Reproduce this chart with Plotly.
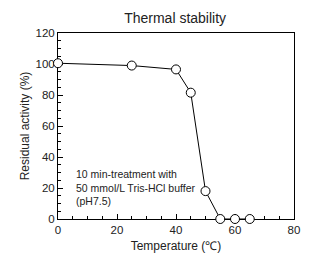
import plotly.graph_objects as go

temperature = [0, 25, 40, 45, 50, 55, 60, 65]
residual_activity = [100.5, 99, 96.5, 81.5, 18, 0, 0, 0]

# The page body has an 8px default margin, so the figure is drawn 8px in from the top-left.
W, H = 305, 245

fig = go.Figure()
fig.add_trace(go.Scatter(
    x=temperature, y=residual_activity, mode="lines+markers",
    line=dict(color="black", width=1),
    marker=dict(symbol="circle", size=9, color="white", line=dict(color="black", width=1)),
    cliponaxis=False, showlegend=False))

fig.update_layout(
    width=W, height=H,
    margin=dict(l=50, r=19, t=25, b=34, autoexpand=False),
    paper_bgcolor="white", plot_bgcolor="white",
    font=dict(family="Liberation Sans, Arial, sans-serif", size=11.5, color="#222"),
    title=dict(text="Thermal stability", x=0.548, xanchor="center", y=0.958, yanchor="middle",
               font=dict(size=14, color="#222")),
    xaxis=dict(range=[0, 80], tickvals=[0, 20, 40, 60, 80], ticks="inside", ticklen=5,
               tickcolor="black", showline=True, linecolor="black", linewidth=1, mirror=True,
               showgrid=False, zeroline=False, automargin=False, layer="below traces",
               minor=dict(dtick=5, ticks="inside", ticklen=3, tickcolor="black"),
               title=dict(text="Temperature (℃)", standoff=6, font=dict(size=12))),
    yaxis=dict(range=[0, 120], tickvals=[0, 20, 40, 60, 80, 100, 120], ticks="inside", ticklen=5,
               tickcolor="black", showline=True, linecolor="black", linewidth=1, mirror=True,
               showgrid=False, zeroline=False, automargin=False, layer="below traces",
               minor=dict(dtick=5, ticks="inside", ticklen=3, tickcolor="black"),
               title=dict(text="Residual activity (%)", standoff=3, font=dict(size=12))),
)

fig.add_annotation(x=0.068, y=0.172, xref="paper", yref="paper", xanchor="left", yanchor="middle",
                   text="10 min-treatment with<br>50 mmol/L Tris-HCl buffer<br>(pH7.5)",
                   showarrow=False, align="left", font=dict(size=10.5, color="#222"))

fig.write_html("out.html")
